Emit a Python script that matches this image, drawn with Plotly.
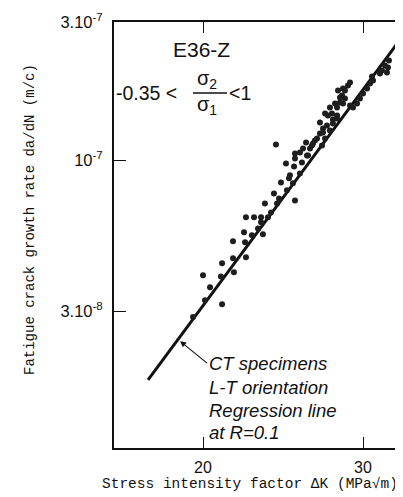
import math
import plotly.graph_objects as go

# Measured data (ΔK in MPa√m, da/dN in m/cycle)
dk = [19.50, 20.10, 20.36, 20.00, 20.93, 20.99, 21.63, 20.99, 21.58, 22.30,
      21.58, 22.25, 22.19, 22.64, 22.99, 23.28, 22.30, 22.76, 23.17, 23.58,
      23.17, 23.40, 23.76, 24.13, 24.25, 25.25, 23.94, 24.74, 24.37, 25.12,
      24.87, 24.93, 25.57, 25.19, 24.68, 25.70, 25.25, 26.03, 25.77, 25.97,
      24.06, 25.25, 25.57, 26.23, 26.43, 27.04, 26.70, 27.25, 26.90, 27.59,
      27.11, 27.38, 26.90, 27.80, 28.09, 27.25, 27.73, 27.59, 28.09, 27.95,
      28.30, 28.66, 28.45, 28.16, 28.52, 28.88, 29.03, 28.66, 28.30, 28.52,
      29.03, 29.25, 29.55, 29.77, 30.00, 30.31, 30.54, 30.77, 30.69, 31.32,
      31.88, 31.48, 31.96, 31.72, 32.04, 27.45, 27.80, 27.11, 26.56, 26.36,
      26.10, 28.09]
dadn = [2.87e-8, 3.28e-8, 3.64e-8, 4.01e-8, 3.97e-8, 3.18e-8, 4.10e-8, 4.41e-8, 4.59e-8, 4.62e-8,
        5.25e-8, 5.21e-8, 5.64e-8, 5.51e-8, 5.82e-8, 5.55e-8, 6.36e-8, 6.36e-8, 6.36e-8, 6.36e-8,
        6.11e-8, 7.10e-8, 6.61e-8, 7.10e-8, 7.39e-8, 7.27e-8, 7.69e-8, 7.88e-8, 8.39e-8, 8.33e-8,
        8.67e-8, 8.88e-8, 9.02e-8, 9.53e-8, 9.76e-8, 9.84e-8, 1.016e-7, 1.041e-7, 1.100e-7, 1.154e-7,
        1.136e-7, 1.057e-7, 1.066e-7, 1.100e-7, 1.145e-7, 1.127e-7, 1.191e-7, 1.191e-7, 1.240e-7, 1.269e-7,
        1.290e-7, 1.321e-7, 1.353e-7, 1.342e-7, 1.397e-7, 1.453e-7, 1.453e-7, 1.524e-7, 1.524e-7, 1.574e-7,
        1.586e-7, 1.637e-7, 1.677e-7, 1.745e-7, 1.773e-7, 1.816e-7, 1.860e-7, 1.745e-7, 1.651e-7, 1.574e-7,
        1.549e-7, 1.524e-7, 1.574e-7, 1.637e-7, 1.704e-7, 1.773e-7, 1.845e-7, 1.889e-7, 1.951e-7, 1.998e-7,
        2.014e-7, 2.046e-7, 2.095e-7, 2.129e-7, 2.215e-7, 1.430e-7, 1.386e-7, 1.249e-7, 1.172e-7, 1.127e-7,
        1.041e-7, 1.430e-7]

# Regression line at R=0.1
reg_dk = [17.40, 33.20]
reg_dadn = [1.74e-8, 2.70e-7]

# Arrow target on the regression line
arrow_dk = 18.87
arrow_dadn = 2.37e-8

x_ticks = [20, 30]
x_ticktext = ["20", "30"]
y_ticks = [3e-8, 1e-7, 3e-7]
y_ticktext = ["3.10<sup>-8</sup>", "10<sup>-7</sup>", "3.10<sup>-7</sup>"]

note_lines = ["CT specimens", "L-T orientation", "Regression line", "at R=0.1"]

fig = go.Figure()
fig.add_trace(go.Scatter(x=reg_dk, y=reg_dadn, mode="lines",
                         line=dict(color="#111", width=3), showlegend=False,
                         hoverinfo="skip"))
fig.add_trace(go.Scatter(x=dk, y=dadn, mode="markers",
                         marker=dict(color="#1e1e1e", size=6), showlegend=False))

sans = "Liberation Sans, Arial, sans-serif"
mono = "Liberation Mono, Courier New, monospace"

# page body has an 8px margin: figure is drawn 8px right/down of the window corner
fig.update_layout(
    width=395, height=489,
    margin=dict(l=106, r=0, t=14, b=49, autoexpand=False),
    paper_bgcolor="white", plot_bgcolor="white",
    showlegend=False,
    xaxis=dict(type="log", range=[1.20308, 1.52115],
               tickvals=x_ticks, ticktext=x_ticktext,
               ticks="inside", ticklen=11, tickwidth=1.2, tickcolor="#111",
               showline=True, linecolor="#111", linewidth=1.8, mirror="ticks",
               showgrid=False, zeroline=False,
               tickfont=dict(family=sans, size=16, color="#111"),
               ticklabelstandoff=4),
    yaxis=dict(type="log", range=[-7.995, -6.521],
               tickvals=y_ticks, ticktext=y_ticktext,
               ticks="inside", ticklen=12, tickwidth=1.2, tickcolor="#111",
               showline=True, linecolor="#111", linewidth=1.8, mirror=False,
               showgrid=False, zeroline=False,
               tickfont=dict(family=sans, size=16.5, color="#111"),
               ticklabelstandoff=6),
)

def px2paper_x(p):
    return (p - 114) / 289.0

def px2paper_y(p):
    return (448 - p) / 426.0

def txt(text, wx, wy, size, family=sans, xanchor="center", **kw):
    return dict(text=text, x=px2paper_x(wx), y=px2paper_y(wy), xref="paper", yref="paper",
                xanchor=xanchor, yanchor="middle", showarrow=False,
                font=dict(family=family, size=size, color="#111"), **kw)

ann = []
ann.append(txt("E36-Z", 201, 50, 21))
ann.append(txt("-0.35 <", 179, 93, 19.5, xanchor="right"))
ann.append(txt("σ<sub>2</sub>", 207, 80, 20))
ann.append(txt("σ<sub>1</sub>", 207, 106, 20))
ann.append(txt("<1", 227, 93, 19.5, xanchor="left"))
# first note line carries the arrow pointing at the regression line (log axes: log10 coords)
ann.append(dict(text="<i>" + note_lines[0] + "</i>",
                x=math.log10(arrow_dk), y=math.log10(arrow_dadn), xref="x", yref="y",
                xanchor="left", yanchor="middle",
                showarrow=True, arrowhead=2, arrowsize=1.1, arrowwidth=1.1, arrowcolor="#111",
                ax=27, ay=22, standoff=0,
                font=dict(family=sans, size=18.5, color="#111")))
for line, py in zip(note_lines[1:], [387, 410, 432]):
    ann.append(txt("<i>" + line + "</i>", 207, py, 18.5, xanchor="left"))
ann.append(txt("Stress intensity factor ΔK (MPa√m)", 250, 484, 14.5, family=mono))
ann.append(txt("Fatigue crack growth rate da/dN (m/c)", 30, 220, 14, family=mono, textangle=-90))
fig.update_layout(annotations=ann)

fig.add_shape(type="line", xref="paper", yref="paper",
              x0=px2paper_x(193), x1=px2paper_x(227), y0=px2paper_y(93), y1=px2paper_y(93),
              line=dict(color="#111", width=1.5))

fig.write_html("out.html")
